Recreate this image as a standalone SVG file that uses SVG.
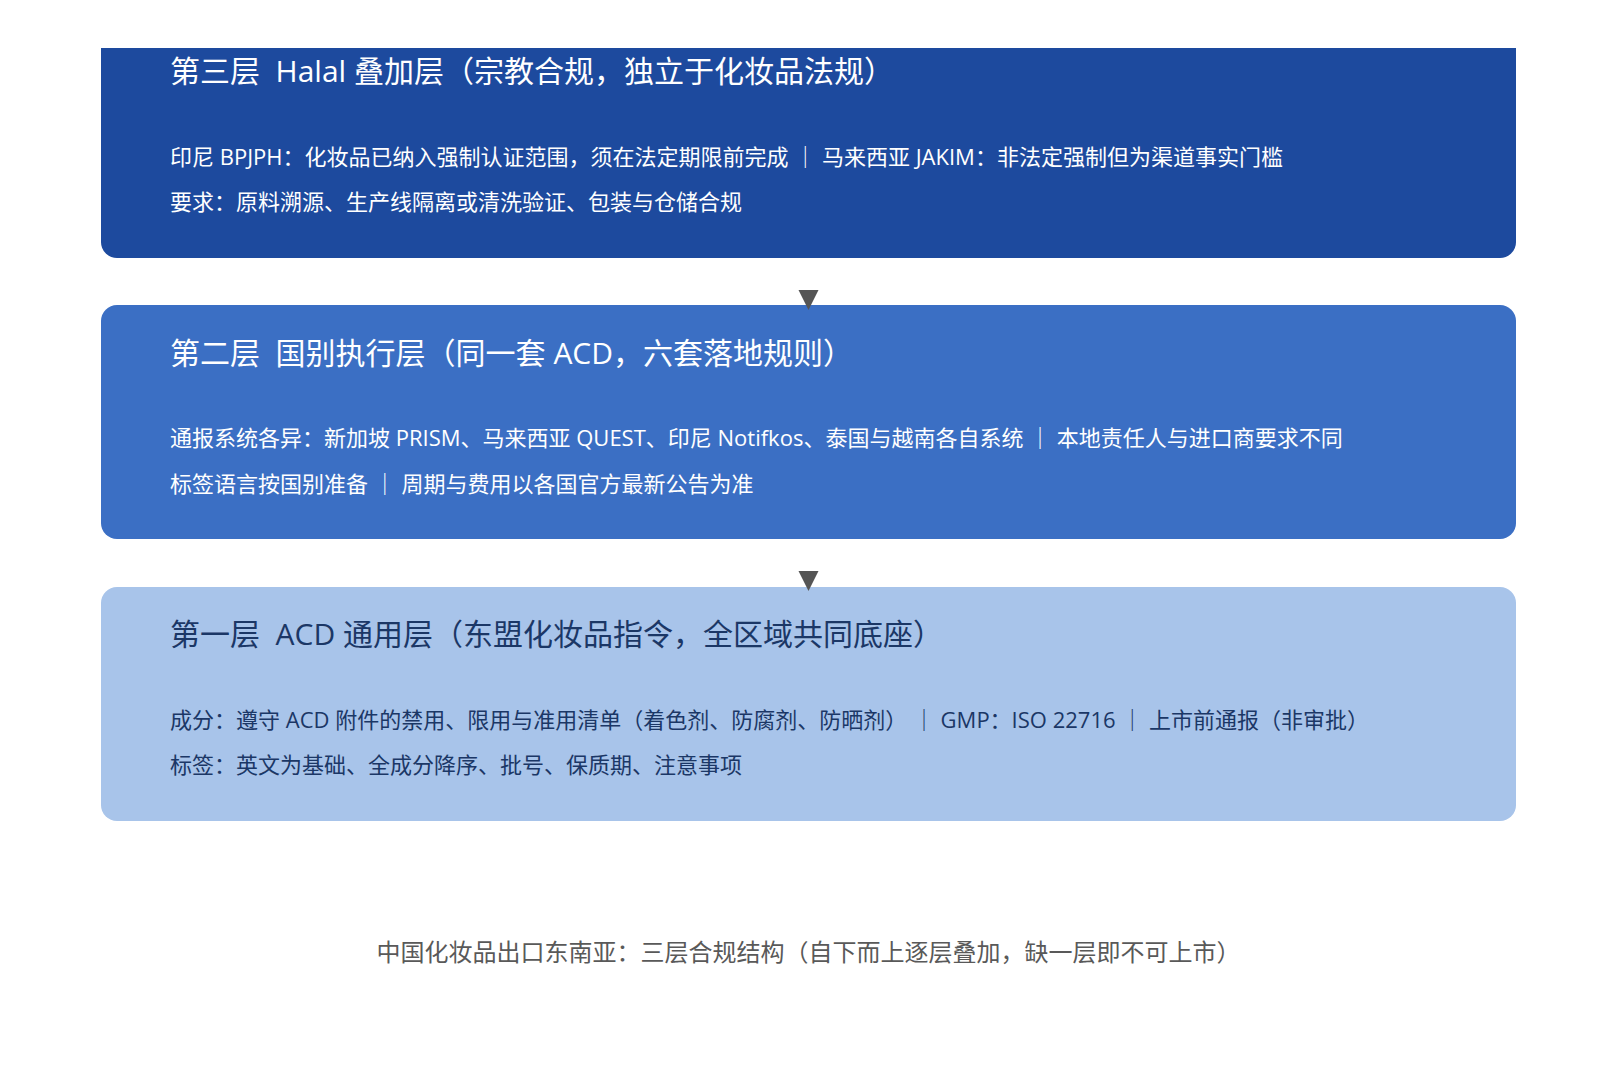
<svg xmlns="http://www.w3.org/2000/svg" width="1617" height="1068" viewBox="0 0 1617 1068">
<style>
text{font-family:"Open Sans","Noto Sans CJK SC",sans-serif;white-space:pre;}
.title{font-size:30px;}
.body{font-size:22px;}
.light{fill:#ffffff;}
.dark{fill:#1b3766;}
.foot{font-size:24px;fill:#595959;}
.arrow{fill:#555555;}
</style>
<rect width="1617" height="1068" fill="#ffffff"/>
<g id="layer3">
<path d="M101,48 H1516 V242 A16,16 0 0 1 1500,258 H117 A16,16 0 0 1 101,242 Z" fill="#1d4a9e"/>
<text class="title light" x="170" y="82" xml:space="preserve">第三层  Halal 叠加层（宗教合规，独立于化妆品法规）</text>
<text class="body light" x="170" y="165" xml:space="preserve">印尼 BPJPH：化妆品已纳入强制认证范围，须在法定期限前完成 ｜ 马来西亚 JAKIM：非法定强制但为渠道事实门槛</text>
<text class="body light" x="170" y="210">要求：原料溯源、生产线隔离或清洗验证、包装与仓储合规</text>
</g>
<g id="layer2">
<rect x="101" y="305" width="1415" height="234" rx="16" fill="#3b6fc4"/>
<text class="title light" x="170" y="364" xml:space="preserve">第二层  国别执行层（同一套 ACD，六套落地规则）</text>
<text class="body light" x="170" y="446" xml:space="preserve">通报系统各异：新加坡 PRISM、马来西亚 QUEST、印尼 Notifkos、泰国与越南各自系统 ｜ 本地责任人与进口商要求不同</text>
<text class="body light" x="170" y="492" xml:space="preserve">标签语言按国别准备 ｜ 周期与费用以各国官方最新公告为准</text>
</g>
<g id="layer1">
<rect x="101" y="587" width="1415" height="234" rx="16" fill="#a8c4ea"/>
<text class="title dark" x="170" y="645" xml:space="preserve">第一层  ACD 通用层（东盟化妆品指令，全区域共同底座）</text>
<text class="body dark" x="170" y="728" xml:space="preserve">成分：遵守 ACD 附件的禁用、限用与准用清单（着色剂、防腐剂、防晒剂） ｜ GMP：ISO 22716 ｜ 上市前通报（非审批）</text>
<text class="body dark" x="170" y="773">标签：英文为基础、全成分降序、批号、保质期、注意事项</text>
</g>
<g id="connectors">
<polygon class="arrow" points="798.5,290 818.5,290 808.5,310"/>
<polygon class="arrow" points="798.5,571 818.5,571 808.5,591"/>
</g>
<g id="caption">
<text class="foot" x="808.5" y="961" text-anchor="middle">中国化妆品出口东南亚：三层合规结构（自下而上逐层叠加，缺一层即不可上市）</text>
</g>
</svg>
